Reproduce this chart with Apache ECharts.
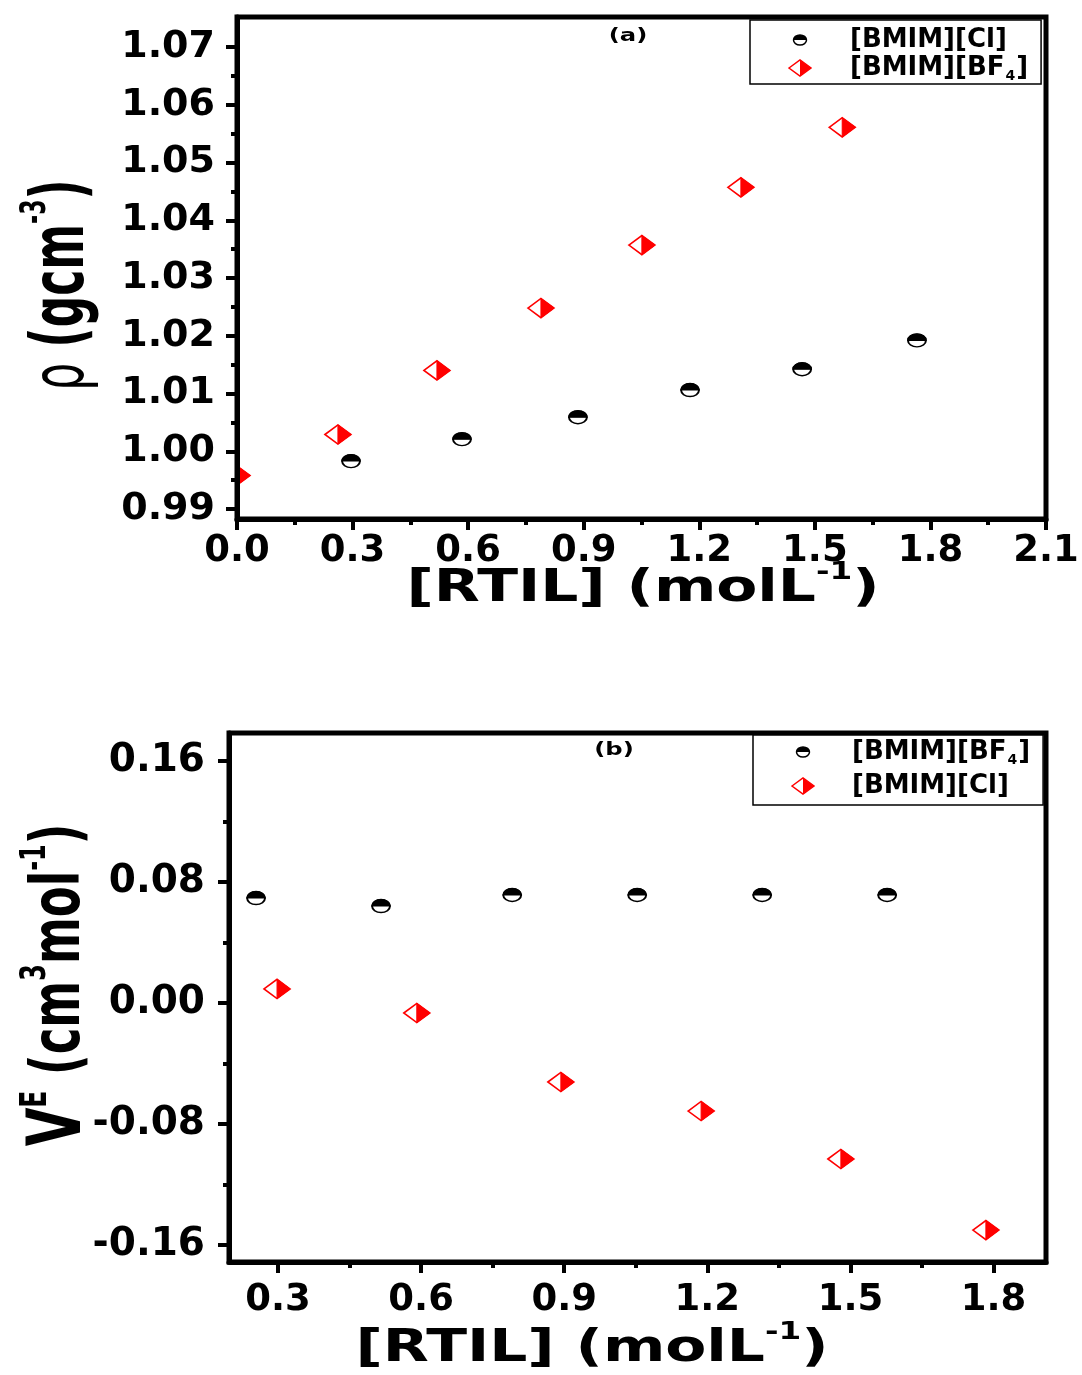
<!DOCTYPE html>
<html><head><meta charset="utf-8">
<script src="https://cdn.jsdelivr.net/npm/echarts@6/dist/echarts.min.js"></script>
<style>html,body{margin:0;padding:0;background:#fff}#c{width:1082px;height:1375px}</style>
</head><body><div id="c"></div>
<script>
// ---------- Panel (a): density vs [RTIL] ----------
const clConcA    = [0.296, 0.584, 0.885, 1.176, 1.467, 1.765];
const clDensity  = [0.9983, 1.0021, 1.0059, 1.0106, 1.0142, 1.0192];
const bf4ConcA   = [0.0, 0.262, 0.519, 0.789, 1.051, 1.308, 1.571];
const bf4Density = [0.9958, 1.0029, 1.0140, 1.0248, 1.0357, 1.0457, 1.0561];
// ---------- Panel (b): excess molar volume ----------
const bf4ConcB = [0.254, 0.516, 0.791, 1.053, 1.315, 1.577];
const bf4VE    = [0.0694, 0.0641, 0.0714, 0.0714, 0.0714, 0.0714];
const clConcB  = [0.298, 0.591, 0.893, 1.187, 1.480, 1.784];
const clVE     = [0.0093, -0.0066, -0.0522, -0.0714, -0.1031, -0.1501];
// ---------- tick labels ----------
const xTicksA = ['0.0','0.3','0.6','0.9','1.2','1.5','1.8','2.1'];
const yTicksA = ['0.99','1.00','1.01','1.02','1.03','1.04','1.05','1.06','1.07'];
const xTicksB = ['0.3','0.6','0.9','1.2','1.5','1.8'];
const yTicksB = ['-0.16','-0.08','0.00','0.08','0.16'];
const namesA = ['[BMIM][Cl]', '[BMIM][BF4]'];
const namesB = ['[BMIM][BF4]', '[BMIM][Cl]'];

const FONT = 'DejaVu Sans';
const RED = '#ff0000';
const num = a => a.map(Number);
const mids = a => { const n = num(a), r = []; for (let i = 0; i < n.length - 1; i++) r.push(+((n[i] + n[i+1]) / 2).toFixed(4)); return r; };
const pairs = (xs, ys) => xs.map((x, i) => [x, ys[i]]);

function halfCircle(params, api) {
  const p = api.coord([api.value(0), api.value(1)]);
  return { type: 'group', x: p[0], y: p[1], scaleX: 1.38, children: [
    { type: 'circle', shape: { cx: 0, cy: 0, r: 6.5 }, style: { fill: '#fff', stroke: '#000', lineWidth: 1.4 } },
    { type: 'sector', shape: { cx: 0, cy: 0, r0: 0, r: 6.5, startAngle: Math.PI, endAngle: 2 * Math.PI, clockwise: true }, style: { fill: '#000', stroke: '#000', lineWidth: 1 } }
  ]};
}
function halfDiamond(params, api) {
  const p = api.coord([api.value(0), api.value(1)]);
  const w = 13, h = 9.6;
  return { type: 'group', x: p[0], y: p[1], children: [
    { type: 'polygon', shape: { points: [[-w,0],[0,-h],[w,0],[0,h]] }, style: { fill: '#fff', stroke: RED, lineWidth: 1.6 } },
    { type: 'polygon', shape: { points: [[0,-h],[w,0],[0,h]] }, style: { fill: RED, stroke: RED, lineWidth: 1 } }
  ]};
}
const svgUrl = s => 'image://data:image/svg+xml;charset=utf-8,' + encodeURIComponent(s);
const circleIcon = svgUrl('<svg xmlns="http://www.w3.org/2000/svg" width="52" height="38" viewBox="0 0 52 38"><ellipse cx="26" cy="19" rx="13" ry="10" fill="#fff" stroke="#000" stroke-width="3"/><path d="M13,19 A13,10 0 0 1 39,19 Z" fill="#000"/></svg>');
const diamondIcon = svgUrl('<svg xmlns="http://www.w3.org/2000/svg" width="52" height="38" viewBox="0 0 52 38"><polygon points="4,19 26,3 48,19 26,35" fill="#fff" stroke="#ff0000" stroke-width="3"/><polygon points="26,3 48,19 26,35" fill="#ff0000"/></svg>');

function majorAxis(dim, gi, min, max, ticks, dec, margin, fs) {
  const vals = num(ticks);
  return {
    type: 'value', gridIndex: gi, min: min, max: max,
    position: dim === 'x' ? 'bottom' : 'left', z: 5,
    axisLine: { show: true, onZero: false, lineStyle: { color: '#000', width: 5 } },
    axisTick: { show: true, inside: false, customValues: vals, length: 11, lineStyle: { color: '#000', width: 4 } },
    axisLabel: { show: true, customValues: vals, margin: margin, formatter: v => Number(v).toFixed(dec),
      fontFamily: FONT, fontWeight: 'bold', fontSize: fs, color: '#000' },
    splitLine: { show: false }, minorTick: { show: false }
  };
}
function minorAxis(dim, gi, min, max, vals) {
  return {
    type: 'value', gridIndex: gi, min: min, max: max,
    position: dim === 'x' ? 'bottom' : 'left', z: 5,
    axisLine: { show: false, onZero: false },
    axisTick: { show: true, inside: false, customValues: vals, length: 6, lineStyle: { color: '#000', width: 4 } },
    axisLabel: { show: false }, splitLine: { show: false }
  };
}

const xMinA = 0, xMaxA = 2.1, yMinA = 0.98827, yMaxA = 1.07520;
const xMinB = 0.1973, xMaxB = 1.910, yMinB = -0.1712, yMaxB = 0.1785;

const legendText = {
  fontFamily: FONT, fontWeight: 'bold', fontSize: 26, color: '#000', lineHeight: 30,
  rich: { s: { fontFamily: FONT, fontWeight: 'bold', fontSize: 14, color: '#000', verticalAlign: 'bottom', lineHeight: 13, padding: [0, 1, 0, 1] } }
};
const legendFmt = n => n.replace(/4\]$/, '{s|4}]');

const supRich = (fs) => ({ fontFamily: FONT, fontWeight: 'bold', fontSize: fs, fill: '#000', verticalAlign: 'top', lineHeight: fs });

const option = {
  backgroundColor: '#fff',
  animation: false,
  grid: [
    { left: 237, top: 17, width: 809, height: 502, show: true, borderColor: '#000', borderWidth: 5, backgroundColor: 'transparent' },
    { left: 229, top: 733, width: 817, height: 529, show: true, borderColor: '#000', borderWidth: 5, backgroundColor: 'transparent' }
  ],
  xAxis: [
    majorAxis('x', 0, xMinA, xMaxA, xTicksA, 1, 14, 37),
    minorAxis('x', 0, xMinA, xMaxA, mids(xTicksA).concat([1.95])),
    majorAxis('x', 1, xMinB, xMaxB, xTicksB, 1, 20, 37),
    minorAxis('x', 1, xMinB, xMaxB, mids(xTicksB))
  ],
  yAxis: [
    majorAxis('y', 0, yMinA, yMaxA, yTicksA, 2, 22, 38),
    minorAxis('y', 0, yMinA, yMaxA, mids(yTicksA)),
    majorAxis('y', 1, yMinB, yMaxB, yTicksB, 2, 24, 39),
    minorAxis('y', 1, yMinB, yMaxB, mids(yTicksB))
  ],
  legend: [
    { orient: 'vertical', left: 750, top: 20, padding: [5, 13, 1, 37], itemGap: -2, itemWidth: 26, itemHeight: 19,
      backgroundColor: '#fff', borderColor: '#000', borderWidth: 1.5, selectedMode: false,
      data: [{ name: namesA[0], icon: circleIcon }, { name: namesA[1], icon: diamondIcon }],
      formatter: legendFmt, textStyle: Object.assign({ padding: [0, 0, 0, 32] }, legendText) },
    { orient: 'vertical', left: 753, top: 735, padding: [2, 13, 4, 37], itemGap: 4, itemWidth: 26, itemHeight: 19,
      backgroundColor: '#fff', borderColor: '#000', borderWidth: 1.5, selectedMode: false,
      data: [{ name: namesB[0], icon: circleIcon }, { name: namesB[1], icon: diamondIcon }],
      formatter: legendFmt, textStyle: Object.assign({ padding: [0, 0, 0, 31] }, legendText) }
  ],
  series: [
    { type: 'custom', name: namesA[0], xAxisIndex: 0, yAxisIndex: 0, clip: true, z: 3,
      data: pairs(clConcA, clDensity), renderItem: halfCircle, encode: { x: 0, y: 1 } },
    { type: 'custom', name: namesA[1], xAxisIndex: 0, yAxisIndex: 0, clip: true, z: 3,
      data: pairs(bf4ConcA, bf4Density), renderItem: halfDiamond, encode: { x: 0, y: 1 } },
    { type: 'custom', name: namesB[0], xAxisIndex: 2, yAxisIndex: 2, clip: true, z: 3,
      data: pairs(bf4ConcB, bf4VE), renderItem: halfCircle, encode: { x: 0, y: 1 } },
    { type: 'custom', name: namesB[1], xAxisIndex: 2, yAxisIndex: 2, clip: true, z: 3,
      data: pairs(clConcB, clVE), renderItem: halfDiamond, encode: { x: 0, y: 1 } }
  ],
  graphic: [
    { type: 'text', x: 628, y: 36, scaleX: 1.35, style: { text: '(a)', fontFamily: FONT, fontWeight: 'bold', fontSize: 18, fill: '#000', align: 'center', verticalAlign: 'middle' } },
    { type: 'text', x: 614, y: 750, scaleX: 1.35, style: { text: '(b)', fontFamily: FONT, fontWeight: 'bold', fontSize: 18, fill: '#000', align: 'center', verticalAlign: 'middle' } },
    { type: 'text', x: 643, y: 590, scaleX: 1.36, style: { text: '{b|[RTIL] (molL}{p|-1}{b|)}', align: 'center', verticalAlign: 'middle',
      rich: { b: { fontFamily: FONT, fontWeight: 'bold', fontSize: 44, fill: '#000', lineHeight: 58 }, p: supRich(24) } } },
    { type: 'text', x: 592, y: 1350, scaleX: 1.36, style: { text: '{b|[RTIL] (molL}{p|-1}{b|)}', align: 'center', verticalAlign: 'middle',
      rich: { b: { fontFamily: FONT, fontWeight: 'bold', fontSize: 44, fill: '#000', lineHeight: 58 }, p: supRich(24) } } },
    { type: 'text', x: 64, y: 285, rotation: Math.PI / 2, scaleY: 1.65, style: { text: '{r|ρ}{b| (gcm}{p|-3}{b|)}', align: 'center', verticalAlign: 'middle',
      rich: { r: { fontFamily: FONT, fontSize: 44, fill: '#000', lineHeight: 56 }, b: { fontFamily: FONT, fontWeight: 'bold', fontSize: 44, fill: '#000', lineHeight: 56 }, p: supRich(22) } } },
    { type: 'text', x: 61, y: 985, rotation: Math.PI / 2, scaleY: 1.5, style: { text: '{v|V}{e|E}{b| (cm}{p|3}{b|mol}{p|-1}{b|)}', align: 'center', verticalAlign: 'middle',
      rich: { v: { fontFamily: FONT, fontWeight: 'bold', fontSize: 50, fill: '#000', lineHeight: 58 }, e: supRich(25),
              b: { fontFamily: FONT, fontWeight: 'bold', fontSize: 45, fill: '#000', lineHeight: 58 }, p: supRich(24) } } }
  ]
};
const chart = echarts.init(document.getElementById('c'), null, { renderer: 'canvas' });
chart.setOption(option);
</script></body></html>
